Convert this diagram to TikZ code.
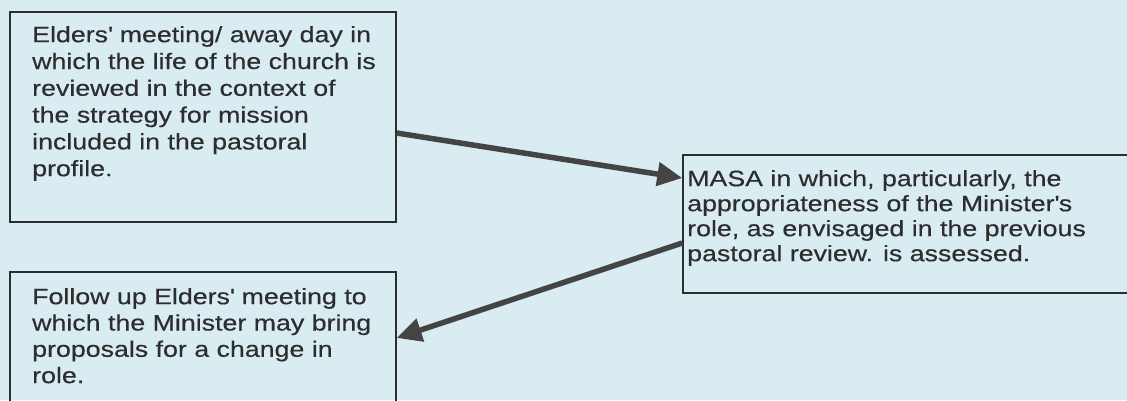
\documentclass[tikz,border=0pt]{standalone}
\usepackage{fontspec}
\newfontfamily\boxfont[FakeStretch=1.2,FakeBold=0.4]{Liberation Sans}
\usetikzlibrary{arrows.meta}
\definecolor{bg}{RGB}{216,236,242}
\definecolor{ink}{RGB}{45,45,45}
\definecolor{arrowgray}{RGB}{68,68,68}
\begin{document}
\begin{tikzpicture}[x=1pt,y=1pt,
  box/.style={draw=ink, line width=1.4pt, rectangle, inner sep=0pt},
  boxtext/.style={anchor=north west, inner sep=0pt, align=left, text=ink},
  link/.style={draw=arrowgray, line width=5.5pt, -{Triangle[length=25pt,width=23pt]}}]
\useasboundingbox (0,0) rectangle (1127,400);
\clip (0,0) rectangle (1127,400);
\fill[bg] (0,0) rectangle (1127,400);
\node[box, minimum width=386pt, minimum height=210pt] (b1) at (203,283) {};
\node[box, minimum width=386pt, minimum height=148pt] (b2) at (203,54) {};
\node[box, minimum width=467pt, minimum height=138pt] (b3) at (916.5,176) {};
\node[boxtext, font=\boxfont\fontsize{22.3}{26.8}\selectfont] (t1) at (32,375)
  {\rule{0pt}{17pt}Elders\textquotesingle{} meeting/ away day in\\
   which the life of the church is\\
   reviewed in the context of\\
   the strategy for mission\\
   included in the pastoral\\
   profile.};
\node[boxtext, font=\boxfont\fontsize{22.3}{26.3}\selectfont] (t2) at (32,113)
  {\rule{0pt}{17pt}Follow up Elders\textquotesingle{} meeting to\\
   which the Minister may bring\\
   proposals for a change in\\
   role.};
\node[boxtext, font=\boxfont\fontsize{22.3}{25}\selectfont] (t3) at (687,231)
  {\rule{0pt}{17pt}MASA in which, particularly, the\\
   appropriateness of the Minister\textquotesingle s\\
   role, as envisaged in the previous\\
   pastoral review. is assessed.};
\draw[link] ([yshift=-16pt]b1.east) -- ([yshift=46pt]b3.west);
\draw[link] ([yshift=-19pt]b3.west) -- ([yshift=8pt]b2.east);
\end{tikzpicture}
\end{document}
